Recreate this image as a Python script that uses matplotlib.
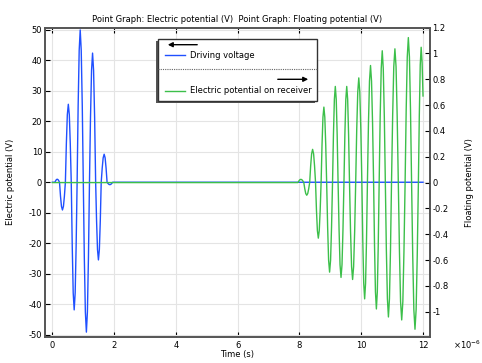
import matplotlib
matplotlib.use("Agg")
import matplotlib.pyplot as plt
from matplotlib.patches import Rectangle, FancyArrowPatch
from matplotlib.lines import Line2D


# -------------------------
# DATA (time in microseconds)
# one line per half wave: zero crossing, flank, flank, extremum, flank, flank
# -------------------------
drive_t = [0.0, 0.08,
           0.105, 0.13, 0.155, 0.18, 0.205, 0.23,
           0.262, 0.293, 0.325, 0.357, 0.388, 0.42,
           0.452, 0.483, 0.515, 0.547, 0.578, 0.61,
           0.642, 0.673, 0.705, 0.737, 0.768, 0.80,
           0.833, 0.867, 0.90, 0.933, 0.967, 1.00,
           1.033, 1.067, 1.10, 1.133, 1.167, 1.20,
           1.233, 1.267, 1.30, 1.333, 1.367, 1.40,
           1.43, 1.46, 1.49, 1.52, 1.55, 1.58,
           1.612, 1.643, 1.675, 1.707, 1.738, 1.77,
           1.80, 1.83, 1.86, 1.89, 1.92, 1.95,
           12.0]
drive_v = [0, 0,
           0.5, 0.87, 1.0, 0.87, 0.5, 0,
           -4.6, -7.9, -9.1, -7.9, -4.6, 0,
           12.8, 22.2, 25.6, 22.2, 12.8, 0,
           -21.0, -36.3, -41.9, -36.3, -21.0, 0,
           25.0, 43.3, 50.0, 43.3, 25.0, 0,
           -24.6, -42.6, -49.2, -42.6, -24.6, 0,
           21.2, 36.7, 42.4, 36.7, 21.2, 0,
           -12.8, -22.1, -25.5, -22.1, -12.8, 0,
           4.6, 8.0, 9.2, 8.0, 4.6, 0,
           -0.4, -0.7, -0.8, -0.7, -0.4, 0,
           0]

recv_t = [0.0, 7.95,
          7.982, 8.013, 8.045, 8.077, 8.108, 8.14,
          8.172, 8.203, 8.235, 8.267, 8.298, 8.33,
          8.362, 8.393, 8.425, 8.457, 8.488, 8.52,
          8.55, 8.58, 8.61, 8.64, 8.67, 8.70,
          8.73, 8.76, 8.79, 8.82, 8.85, 8.88,
          8.912, 8.943, 8.975, 9.007, 9.038, 9.07,
          9.10, 9.13, 9.16, 9.19, 9.22, 9.25,
          9.282, 9.313, 9.345, 9.377, 9.408, 9.44,
          9.47, 9.50, 9.53, 9.56, 9.59, 9.62,
          9.653, 9.687, 9.72, 9.753, 9.787, 9.82,
          9.853, 9.887, 9.92, 9.953, 9.987, 10.02,
          10.05, 10.08, 10.11, 10.14, 10.17, 10.20,
          10.233, 10.267, 10.30, 10.333, 10.367, 10.40,
          10.43, 10.46, 10.49, 10.52, 10.55, 10.58,
          10.613, 10.647, 10.68, 10.713, 10.747, 10.78,
          10.813, 10.847, 10.88, 10.913, 10.947, 10.98,
          11.017, 11.053, 11.09, 11.127, 11.163, 11.20,
          11.237, 11.273, 11.31, 11.347, 11.383, 11.42,
          11.455, 11.49, 11.525, 11.56, 11.595, 11.63,
          11.667, 11.703, 11.74, 11.777, 11.813, 11.85,
          11.88, 11.91, 11.94, 11.97, 12.0]
recv_v = [0, 0,
          0.013, 0.022, 0.025, 0.022, 0.013, 0,
          -0.049, -0.085, -0.098, -0.085, -0.049, 0,
          0.129, 0.223, 0.257, 0.223, 0.129, 0,
          -0.215, -0.372, -0.43, -0.372, -0.215, 0,
          0.292, 0.506, 0.584, 0.506, 0.292, 0,
          -0.347, -0.600, -0.693, -0.600, -0.347, 0,
          0.372, 0.644, 0.744, 0.644, 0.372, 0,
          -0.367, -0.636, -0.734, -0.636, -0.367, 0,
          0.372, 0.644, 0.744, 0.644, 0.372, 0,
          -0.375, -0.65, -0.75, -0.65, -0.375, 0,
          0.405, 0.701, 0.81, 0.701, 0.405, 0,
          -0.45, -0.779, -0.90, -0.779, -0.45, 0,
          0.453, 0.785, 0.906, 0.785, 0.453, 0,
          -0.489, -0.847, -0.978, -0.847, -0.489, 0,
          0.51, 0.883, 1.02, 0.883, 0.51, 0,
          -0.52, -0.90, -1.04, -0.90, -0.52, 0,
          0.518, 0.896, 1.035, 0.896, 0.518, 0,
          -0.532, -0.921, -1.063, -0.921, -0.532, 0,
          0.561, 0.972, 1.122, 0.972, 0.561, 0,
          -0.568, -0.983, -1.135, -0.983, -0.568, 0,
          0.52, 0.91, 1.047, 0.93, 0.67]

x_ticks = [0, 2, 4, 6, 8, 10, 12]
left_ticks = [-50, -40, -30, -20, -10, 0, 10, 20, 30, 40, 50]
right_ticks = [-1, -0.8, -0.6, -0.4, -0.2, 0, 0.2, 0.4, 0.6, 0.8, 1, 1.2]
right_labels = ["-1", "-0.8", "-0.6", "-0.4", "-0.2", "0", "0.2", "0.4",
                "0.6", "0.8", "1", "1.2"]

BLUE = "#2050ff"
GREEN = "#3cbf4a"
W, H = 482, 363
FS = 6.05

plt.rcParams["font.family"] = "DejaVu Sans"


def fp(x, y):
    # pixel (from top-left) -> figure fraction
    return x / W, 1 - y / H


# -------------------------
# FIGURE
# -------------------------
fig = plt.figure(figsize=(W / 100, H / 100), dpi=100)
ax = fig.add_axes([45 / W, 1 - 337 / H, (429.5 - 45) / W, (337 - 27.5) / H])
ax2 = ax.twinx()

ax.plot(drive_t, drive_v, color=BLUE, lw=1.0)
ax2.plot(recv_t, recv_v, color=GREEN, lw=1.0)

ax.set_xlim(-0.24, 12.21)
ax.set_ylim(-50.8, 50.8)
ax2.set_ylim(-1.195, 1.2)

ax.set_xticks(x_ticks)
ax.set_xticklabels([str(t) for t in x_ticks], fontsize=FS)
ax.set_yticks(left_ticks)
ax.set_yticklabels([str(v) for v in left_ticks], fontsize=FS)
ax2.set_yticks(right_ticks)
ax2.set_yticklabels(right_labels, fontsize=FS)

ax.grid(True, color="#e4e4e4", lw=0.8)
ax.set_axisbelow(True)
ax.tick_params(axis="x", direction="in", length=3.5, width=0.8, top=True, pad=3)
ax.tick_params(axis="y", direction="in", length=3.5, width=0.8, pad=2)
ax2.tick_params(axis="y", direction="in", length=3.5, width=0.8, pad=2)
for a in (ax, ax2):
    for s in a.spines.values():
        s.set_color("#555555")
        s.set_linewidth(1.2)

ax.set_xlabel("Time (s)", fontsize=FS, labelpad=0)
ax.set_ylabel("Electric potential (V)", fontsize=FS, labelpad=10)
ax2.set_ylabel("Floating potential (V)", fontsize=FS, labelpad=12)
ax.set_title("Point Graph: Electric potential (V)  Point Graph: Floating potential (V)",
             fontsize=FS, pad=4)

fig.text(*fp(453, 345), "×10$^{-6}$", fontsize=FS, va="center")

# -------------------------
# LEGEND (drawn by hand)
# -------------------------
x0, y0 = fp(158, 100.7)
x1, y1 = fp(316.7, 39.3)
fig.add_artist(Rectangle((x0 - 2 / W, y0 - 2 / H), x1 - x0, y1 - y0,
                         transform=fig.transFigure, facecolor="#555555",
                         edgecolor="none", zorder=10))
fig.add_artist(Rectangle((x0, y0), x1 - x0, y1 - y0, transform=fig.transFigure,
                         facecolor="white", edgecolor="#333333", lw=1.0, zorder=11))

fig.add_artist(Line2D([x0, x1], [fp(0, 69.3)[1]] * 2, transform=fig.transFigure,
                      color="#666666", lw=0.8, ls=(0, (1, 1)), zorder=12))

for y, c in ((55, BLUE), (90.7, GREEN)):
    a, b = fp(165, y)
    c2, _ = fp(185, y)
    fig.add_artist(Line2D([a, c2], [b, b], transform=fig.transFigure,
                          color=c, lw=1.0, zorder=12))

fig.text(*fp(189.5, 55), "Driving voltage", fontsize=FS, va="center", zorder=12)
fig.text(*fp(189.5, 90.7), "Electric potential on receiver", fontsize=FS,
         va="center", zorder=12)

arrow = dict(arrowstyle="-|>", color="black", lw=1.0, mutation_scale=7)
fig.add_artist(FancyArrowPatch(fp(200, 44.7), fp(165, 44.7),
               transform=fig.transFigure, zorder=12, **arrow))
fig.add_artist(FancyArrowPatch(fp(275, 79.3), fp(311, 79.3),
               transform=fig.transFigure, zorder=12, **arrow))

fig.savefig("out.png", dpi=100)
